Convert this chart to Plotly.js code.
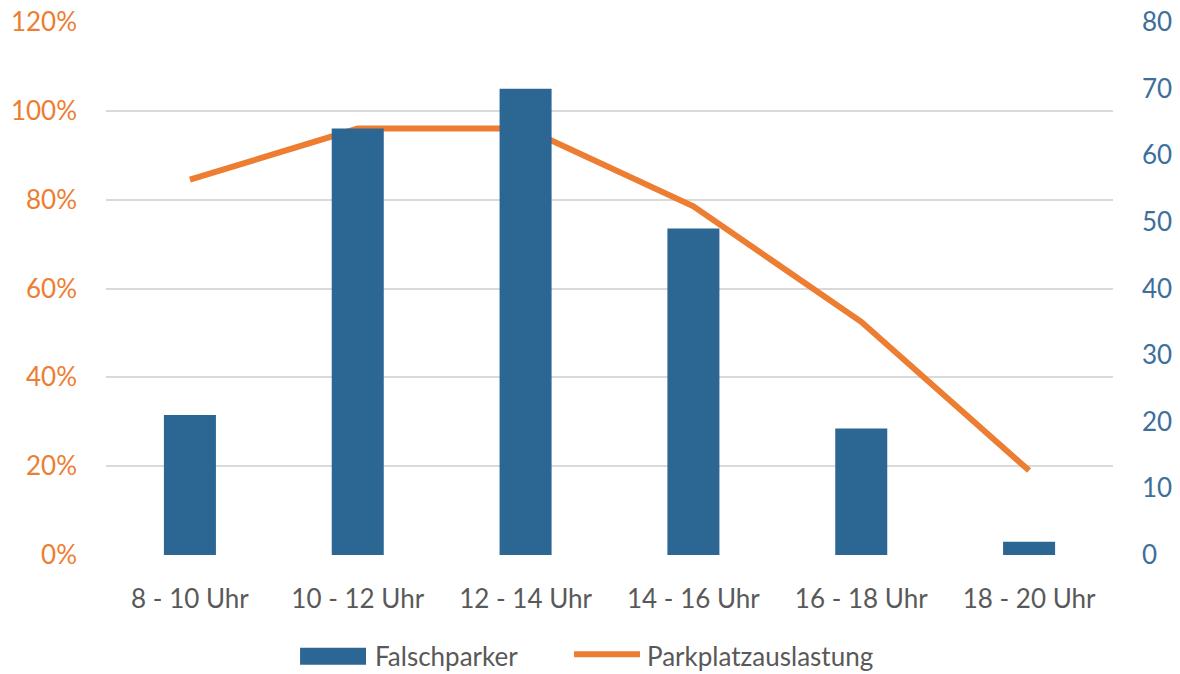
<!DOCTYPE html>
<html>
<head>
<meta charset="utf-8">
<script src="https://cdn.plot.ly/plotly-3.0.1.min.js"></script>
<style>
  html, body { margin: 0; padding: 0; background: #ffffff; }
  #chart { width: 1180px; height: 674px; }
</style>
</head>
<body>
<div id="chart"></div>
<script>
// Zeitfenster
const categories = ['8 - 10 Uhr', '10 - 12 Uhr', '12 - 14 Uhr', '14 - 16 Uhr', '16 - 18 Uhr', '18 - 20 Uhr'];
// Anzahl Falschparker je Zeitfenster (rechte Achse)
const falschparker = [21, 64, 70, 49, 19, 2];
// Parkplatzauslastung als Anteil (linke Achse)
const auslastung = [0.845, 0.96, 0.96, 0.785, 0.525, 0.19];
// Legendeneinträge
const seriesNames = ['Falschparker', 'Parkplatzauslastung'];

const fontFamily = 'Lato, "Open Sans", sans-serif';
const orange = '#ED7D31';
const blue = '#2C6794';
const textGrey = '#595959';
const gridColor = '#D9D9D9';

const traces = [
  {
    type: 'bar',
    name: seriesNames[0],
    x: categories,
    y: falschparker,
    yaxis: 'y2',
    width: 0.31,
    marker: { color: blue },
    showlegend: false,
    hoverinfo: 'x+y'
  },
  {
    type: 'scatter',
    mode: 'lines',
    name: seriesNames[1],
    x: categories,
    y: auslastung,
    yaxis: 'y',
    line: { color: orange, width: 6, shape: 'linear' },
    showlegend: false,
    hoverinfo: 'x+y'
  }
];

// Legende unterhalb der Achse: breites Balkensymbol und Liniensymbol
const legendY = -0.19;
const legendShapes = [
  {
    type: 'rect', xref: 'paper', yref: 'paper',
    x0: 0.1927, x1: 0.2582, y0: legendY - 0.016, y1: legendY + 0.016,
    fillcolor: blue, line: { width: 0 }
  },
  {
    type: 'line', xref: 'paper', yref: 'paper',
    x0: 0.4648, x1: 0.5303, y0: legendY + 0.004, y1: legendY + 0.004,
    line: { color: orange, width: 6 }
  }
];
const legendLabels = [
  {
    xref: 'paper', yref: 'paper', x: 0.266, y: legendY,
    xanchor: 'left', yanchor: 'middle', showarrow: false,
    text: seriesNames[0], borderpad: 0,
    font: { family: fontFamily, size: 26, color: textGrey }
  },
  {
    xref: 'paper', yref: 'paper', x: 0.536, y: legendY,
    xanchor: 'left', yanchor: 'middle', showarrow: false,
    text: seriesNames[1], borderpad: 0,
    font: { family: fontFamily, size: 26, color: textGrey }
  }
];

const layout = {
  width: 1180,
  height: 674,
  margin: { l: 106, r: 67, t: 22, b: 119 },
  paper_bgcolor: '#ffffff',
  plot_bgcolor: '#ffffff',
  font: { family: fontFamily, size: 26, color: textGrey },
  showlegend: false,
  shapes: legendShapes,
  annotations: legendLabels,
  xaxis: {
    type: 'category',
    showgrid: false,
    showline: false,
    zeroline: false,
    ticks: '',
    ticklabelstandoff: 26,
    tickfont: { family: fontFamily, size: 26, color: textGrey }
  },
  yaxis: {
    range: [0, 1.2],
    dtick: 0.2,
    tick0: 0,
    tickformat: '.0%',
    showgrid: true,
    gridcolor: gridColor,
    gridwidth: 2,
    zeroline: false,
    showline: false,
    ticks: '',
    ticklabelstandoff: 28,
    tickfont: { family: fontFamily, size: 26, color: orange }
  },
  yaxis2: {
    range: [0, 80],
    dtick: 10,
    tick0: 0,
    overlaying: 'y',
    side: 'right',
    showgrid: false,
    zeroline: false,
    showline: false,
    ticks: '',
    ticklabelstandoff: 28,
    tickfont: { family: fontFamily, size: 26, color: '#3D6F9B' }
  }
};

Plotly.newPlot('chart', traces, layout, { displayModeBar: false, staticPlot: true });
</script>
</body>
</html>
